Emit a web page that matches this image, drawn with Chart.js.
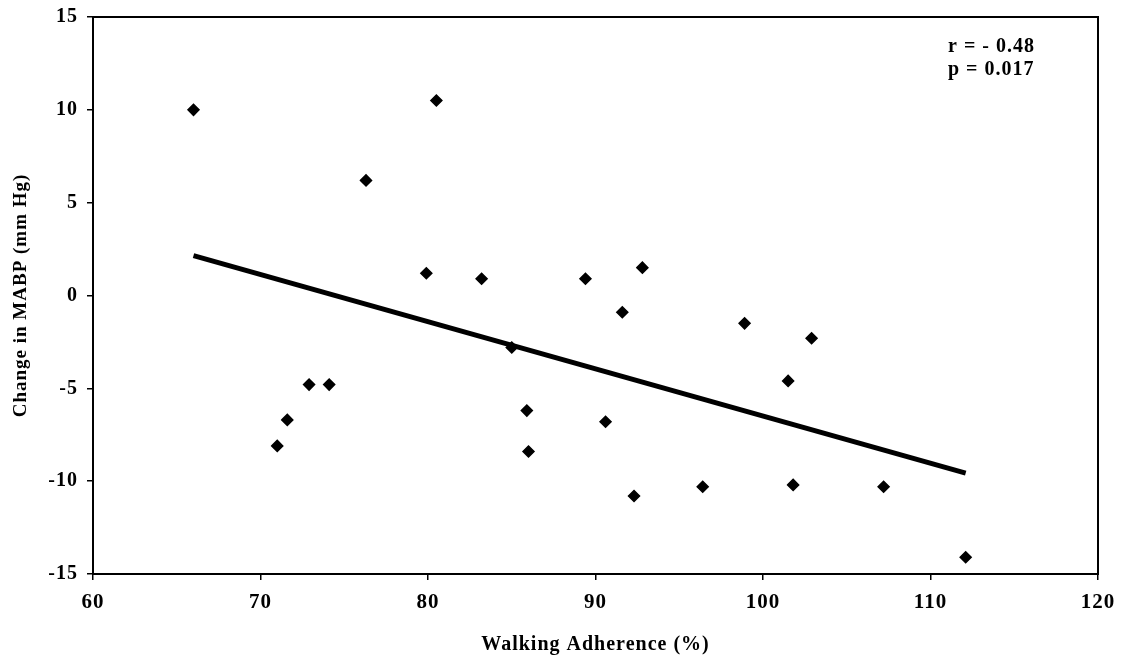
<!DOCTYPE html>
<html>
<head>
<meta charset="utf-8">
<script src="https://cdn.jsdelivr.net/npm/chart.js@4/dist/chart.umd.min.js"></script>
<style>
  html, body { margin: 0; padding: 0; background: #fff; }
  #wrap { width: 1126px; height: 658px; }
</style>
</head>
<body>
<div id="wrap"><canvas id="myChart" width="1126" height="658"></canvas></div>
<script>
// walking adherence (%) vs change in MABP (mm Hg), one entry per subject
const adherence = [66.0, 80.5, 76.3, 79.9, 83.2, 89.4, 92.8, 91.6, 98.9, 102.9, 101.5, 101.8,
  107.2, 112.1, 85.0, 85.9, 86.0, 90.6, 92.3, 96.4, 71.0, 71.6, 72.9, 74.1];
const mabpChange = [10.0, 10.5, 6.2, 1.2, 0.9, 0.9, 1.5, -0.9, -1.5, -2.3, -4.6, -10.2,
  -10.3, -14.1, -2.8, -6.2, -8.4, -6.8, -10.8, -10.3, -8.1, -6.7, -4.8, -4.8];

// regression line end points
const fitX = [66.0, 112.1];
const fitY = [2.15, -9.57];

const xTicks = [60, 70, 80, 90, 100, 110, 120];
const yTicks = [-15, -10, -5, 0, 5, 10, 15];
const statsText = ['r = - 0.48', 'p = 0.017'];

const serif = "'Liberation Serif', 'Times New Roman', serif";

const scatterPts = adherence.map((x, i) => ({ x: x, y: mabpChange[i] }));
const fitPts = fitX.map((x, i) => ({ x: x, y: fitY[i] }));

// text in the scan is a bit spread out
const spacingPlugin = {
  id: 'spacing',
  beforeLayout(chart) { chart.ctx.letterSpacing = '1px'; },
  beforeDraw(chart) { chart.ctx.letterSpacing = '1px'; }
};

const framePlugin = {
  id: 'frame',
  afterDraw(chart) {
    const ctx = chart.ctx;
    const a = chart.chartArea;
    ctx.save();
    ctx.strokeStyle = '#000';
    ctx.lineWidth = 2;
    ctx.strokeRect(a.left, a.top, a.right - a.left, a.bottom - a.top);
    ctx.fillStyle = '#000';
    ctx.font = 'bold 20px ' + serif;
    ctx.letterSpacing = '1px';
    ctx.textAlign = 'left';
    ctx.textBaseline = 'alphabetic';
    ctx.fillText(statsText[0], a.right - 150, a.top + 35);
    ctx.fillText(statsText[1], a.right - 150, a.top + 58);
    ctx.restore();
  }
};

const chartCtx = document.getElementById('myChart').getContext('2d');

const myChart = new Chart(chartCtx, {
  type: 'scatter',
  data: {
    datasets: [{
      label: 'Subjects',
      data: scatterPts,
      pointStyle: 'rectRot',
      pointRadius: 5.5,
      backgroundColor: '#000',
      borderColor: '#000',
      borderWidth: 1.5
    }, {
      type: 'line',
      label: 'Fit',
      data: fitPts,
      borderColor: '#000',
      borderWidth: 5,
      pointRadius: 0,
      fill: false
    }]
  },
  options: {
    responsive: false,
    animation: false,
    events: [],
    layout: { padding: { left: 0, right: 28, top: 17, bottom: 0 } },
    plugins: {
      legend: { display: false },
      tooltip: { enabled: false }
    },
    scales: {
      x: {
        type: 'linear',
        min: 60,
        max: 120,
        afterBuildTicks(axis) { axis.ticks = xTicks.map(v => ({ value: v })); },
        afterFit(axis) { axis.height = 84; },
        border: { display: true, color: '#000', width: 2 },
        grid: { display: true, drawOnChartArea: false, drawTicks: true, tickLength: 6, color: '#000', lineWidth: 1.5 },
        ticks: { color: '#000', padding: 10, font: { family: serif, size: 21, weight: 'bold' } },
        title: {
          display: true,
          text: 'Walking Adherence (%)',
          color: '#000',
          padding: { top: 0, bottom: 1 },
          font: { family: serif, size: 20, weight: 'bold' }
        }
      },
      y: {
        type: 'linear',
        min: -15,
        max: 15,
        afterBuildTicks(axis) { axis.ticks = yTicks.map(v => ({ value: v })); },
        afterFit(axis) {
          axis.width = 93;
          axis.paddingTop = 0;
          axis.paddingBottom = 0;
        },
        border: { display: true, color: '#000', width: 2 },
        grid: { display: true, drawOnChartArea: false, drawTicks: true, tickLength: 6, color: '#000', lineWidth: 1.5 },
        ticks: { color: '#000', padding: 9, font: { family: serif, size: 20, weight: 'bold' } },
        title: {
          display: true,
          text: 'Change in MABP (mm Hg)',
          color: '#000',
          padding: { top: 10, bottom: 0 },
          font: { family: serif, size: 19, weight: 'bold' }
        }
      }
    }
  },
  plugins: [spacingPlugin, framePlugin]
});
</script>
</body>
</html>
